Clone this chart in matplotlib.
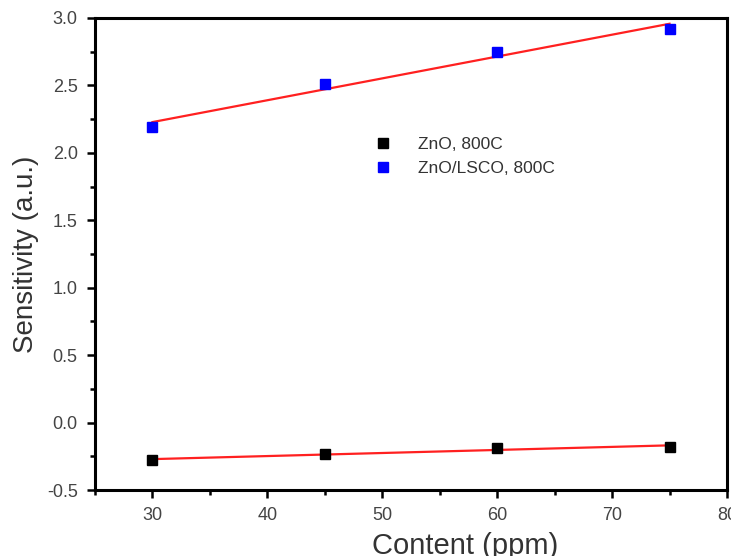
import numpy as np
import matplotlib.pyplot as plt
from matplotlib.ticker import MultipleLocator

# ---- measured sensitivity vs gas content ----
content_ppm = [30, 45, 60, 75]
zno_800 = [-0.28, -0.23, -0.19, -0.18]
zno_lsco_800 = [2.19, 2.51, 2.75, 2.92]

labels = ["ZnO, 800C", "ZnO/LSCO, 800C"]
colors = ["#000000", "#0000FF"]

plt.rcParams['font.family'] = ['Liberation Sans', 'DejaVu Sans']

fig = plt.figure(figsize=(7.31, 5.56), dpi=100)
ax = fig.add_axes([0.130, 0.1187, 0.8645, 0.849])

x = np.array(content_ppm, dtype=float)
for series, lab, col in zip([zno_800, zno_lsco_800], labels, colors):
    y = np.array(series)
    # linear fit through each series
    k, b = np.polyfit(x, y, 1)
    ax.plot([x.min(), x.max()], [k * x.min() + b, k * x.max() + b],
            color="#FF2020", lw=1.6, zorder=2)
    ax.plot(x, y, linestyle="none", marker="s", ms=6.5, color=col,
            label=lab, zorder=3)

ax.set_xlim(25, 80)
ax.set_ylim(-0.5, 3.0)
ax.xaxis.set_major_locator(MultipleLocator(10))
ax.xaxis.set_minor_locator(MultipleLocator(5))
ax.yaxis.set_major_locator(MultipleLocator(0.5))
ax.yaxis.set_minor_locator(MultipleLocator(0.25))
ax.yaxis.set_major_formatter(plt.FormatStrFormatter('%.1f'))

for s in ax.spines.values():
    s.set_linewidth(2.2)
ax.tick_params(which="both", direction="out", top=False, right=False,
               width=1.8, colors="black", labelcolor="#444444")
ax.tick_params(which="major", length=5.5, labelsize=13, pad=7)
ax.tick_params(which="minor", length=3.5)

ax.set_xlabel("Content (ppm)", fontsize=21, color="#333333")
ax.set_ylabel("Sensitivity (a.u.)", fontsize=20, color="#333333")
ax.xaxis.set_label_coords(0.585, -0.088)
ax.yaxis.set_label_coords(-0.088, 0.5)

leg = ax.legend(loc="upper left", bbox_to_anchor=(0.417, 0.782), frameon=False,
                fontsize=12.5, handlelength=1.0, handletextpad=1.5,
                labelspacing=0.55, labelcolor="#333333")

fig.savefig("out.png", dpi=100)
